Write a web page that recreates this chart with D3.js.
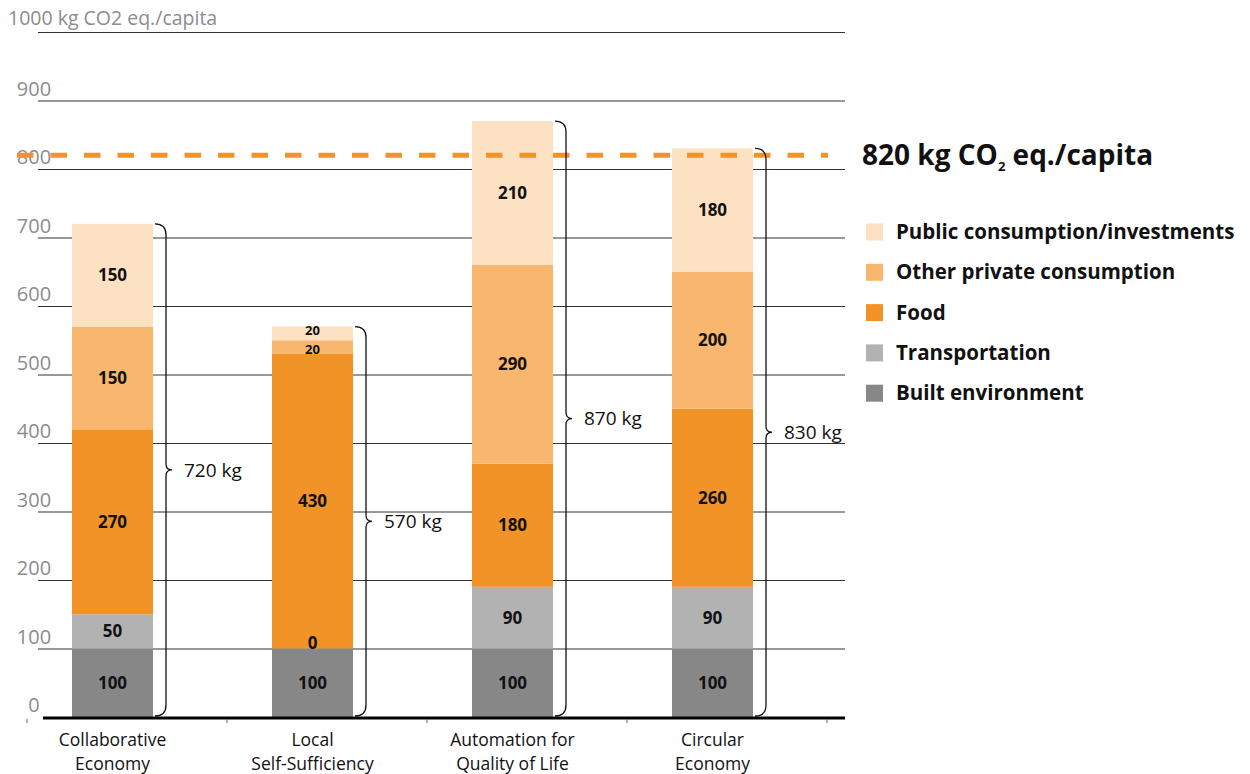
<!DOCTYPE html>
<html>
<head>
<meta charset="utf-8">
<script src="https://cdn.jsdelivr.net/npm/d3@7"></script>
<style>
  body { margin: 0; background: #fff; }
  text { font-family: "Open Sans", "DejaVu Sans", sans-serif; }
</style>
</head>
<body>
<div id="draw"></div>
<script>
// scenarios and their stacked values (kg CO2 eq./capita)
let scenarios = ['Collaborative Economy', 'Local Self-Sufficiency', 'Automation for Quality of Life', 'Circular Economy'];
let scenarioLines = [['Collaborative', 'Economy'], ['Local', 'Self-Sufficiency'], ['Automation for', 'Quality of Life'], ['Circular', 'Economy']];
let categories = ['Built environment', 'Transportation', 'Food', 'Other private consumption', 'Public consumption/investments'];
let builtEnv = [100, 100, 100, 100];
let transport = [50, 0, 90, 90];
let food = [270, 430, 180, 260];
let otherPrivate = [150, 20, 290, 200];
let publicCons = [150, 20, 210, 180];
let totals = [720, 570, 870, 830];
let yTicks = [0, 100, 200, 300, 400, 500, 600, 700, 800, 900, 1000];
let targetValue = 820;

let colors = ['#878787', '#b2b2b2', '#f29327', '#f9b66f', '#fde1c3'];

let W = 1250, H = 774;
let svg = d3.select('#draw').append('svg').attr('width', W).attr('height', H);

let y = d3.scaleLinear().domain([0, 1000]).range([717, 32]);
let x = d3.scaleBand().domain(scenarios).range([27, 827]).padding(0);
let barW = 81, barOff = 45;

// gridlines
let grid = svg.append('g');
grid.selectAll('line').data(yTicks.filter(d => d > 0)).enter().append('line')
  .attr('x1', 38).attr('x2', 845)
  .attr('y1', d => y(d) + 0.5).attr('y2', d => y(d) + 0.5)
  .attr('stroke', '#333').attr('stroke-width', 1);

// y tick labels
svg.append('g').selectAll('text').data(yTicks.filter(d => d < 1000)).enter().append('text')
  .attr('x', 34).attr('y', d => y(d) - 5)
  .attr('text-anchor', 'middle')
  .attr('font-size', 20).attr('fill', '#8c8c8c')
  .text(d => d);
svg.append('text').attr('x', 8).attr('y', y(1000) - 7)
  .attr('font-size', 19.5).attr('fill', '#8c8c8c')
  .text('1000 kg CO2 eq./capita');

// stacked data
let rows = scenarios.map((s, i) => ({
  name: s,
  'Built environment': builtEnv[i],
  'Transportation': transport[i],
  'Food': food[i],
  'Other private consumption': otherPrivate[i],
  'Public consumption/investments': publicCons[i]
}));
let stack = d3.stack().keys(categories)(rows);

let layers = svg.append('g').selectAll('g').data(stack).enter().append('g')
  .attr('fill', (d, i) => colors[i]);
layers.selectAll('rect').data(d => d).enter().append('rect')
  .attr('x', d => x(d.data.name) + barOff)
  .attr('width', barW)
  .attr('y', d => y(d[1]))
  .attr('height', d => y(d[0]) - y(d[1]));

// segment labels
let labels = svg.append('g');
stack.forEach((layer, li) => {
  layer.forEach(d => {
    let v = d[1] - d[0];
    let hgt = y(d[0]) - y(d[1]);
    let thin = hgt > 0 && hgt < 20;
    // thin segments: nudge the labels apart a little
    let nudge = v === 0 ? -5 : (thin ? (li === categories.length - 1 ? -2.5 : 2.5) : 0);
    labels.append('text')
      .attr('x', x(d.data.name) + barOff + barW / 2)
      .attr('y', (y(d[0]) + y(d[1])) / 2 + nudge)
      .attr('dy', '0.35em')
      .attr('text-anchor', 'middle')
      .attr('font-size', thin ? 13 : 17)
      .attr('font-weight', 700).attr('fill', '#111')
      .text(v);
  });
});

// target dashed line
svg.append('line')
  .attr('x1', 17).attr('x2', 828)
  .attr('y1', y(targetValue)).attr('y2', y(targetValue))
  .attr('stroke', '#f29327').attr('stroke-width', 5)
  .attr('stroke-dasharray', '16.5,17');

// braces with totals
let brace = function(x0, yTop, yBot) {
  let w = 11, r = 11, ym = (yTop + yBot) / 2;
  let xv = x0 + w;
  return 'M' + x0 + ',' + yTop +
    ' Q' + xv + ',' + yTop + ' ' + xv + ',' + (yTop + r) +
    ' L' + xv + ',' + (ym - 6) +
    ' Q' + xv + ',' + ym + ' ' + (xv + 6) + ',' + ym +
    ' Q' + xv + ',' + ym + ' ' + xv + ',' + (ym + 6) +
    ' L' + xv + ',' + (yBot - r) +
    ' Q' + xv + ',' + yBot + ' ' + x0 + ',' + yBot;
};
let braces = svg.append('g');
scenarios.forEach((s, i) => {
  let x0 = x(s) + barOff + barW + 2;
  let yTop = y(totals[i]), yBot = y(0) - 1;
  braces.append('path').attr('d', brace(x0, yTop, yBot))
    .attr('fill', 'none').attr('stroke', '#111').attr('stroke-width', 1.3);
  braces.append('text')
    .attr('x', x0 + 29).attr('y', (yTop + yBot) / 2)
    .attr('dy', '0.35em')
    .attr('font-size', 19).attr('fill', '#111')
    .text(totals[i] + ' kg');
});

// x axis
svg.append('line').attr('x1', 43).attr('x2', 845)
  .attr('y1', y(0) + 1).attr('y2', y(0) + 1)
  .attr('stroke', '#000').attr('stroke-width', 3);
let tickXs = scenarios.map(s => x(s)).concat([x.range()[1]]);
svg.append('g').selectAll('line').data(tickXs).enter().append('line')
  .attr('x1', d => d).attr('x2', d => d)
  .attr('y1', y(0) + 2).attr('y2', y(0) + 6)
  .attr('stroke', '#666').attr('stroke-width', 1);

let xl = svg.append('g');
scenarios.forEach((s, i) => {
  scenarioLines[i].forEach((ln, j) => {
    xl.append('text')
      .attr('x', x(s) + barOff + barW / 2).attr('y', 746 + j * 23.5)
      .attr('text-anchor', 'middle')
      .attr('font-size', 17.5).attr('fill', '#111')
      .text(ln);
  });
});

// title
let title = svg.append('text').attr('x', 862).attr('y', 165)
  .attr('font-size', 28).attr('font-weight', 700).attr('fill', '#111');
title.append('tspan').text(targetValue + ' kg CO');
title.append('tspan').attr('font-size', 13).attr('dy', 6).text('2');
title.append('tspan').attr('dy', -6).text(' eq./capita');

// legend
let legendOrder = categories.slice().reverse();
let legendColors = colors.slice().reverse();
let legend = svg.append('g');
legendOrder.forEach((c, i) => {
  let cy = 232 + i * 40.3;
  legend.append('rect').attr('x', 866).attr('y', cy - 8.5).attr('width', 17).attr('height', 17)
    .attr('fill', legendColors[i]);
  legend.append('text').attr('x', 896).attr('y', cy).attr('dy', '0.35em')
    .attr('font-size', 20.5).attr('font-weight', 700).attr('fill', '#111')
    .text(c);
});
</script>
</body>
</html>
